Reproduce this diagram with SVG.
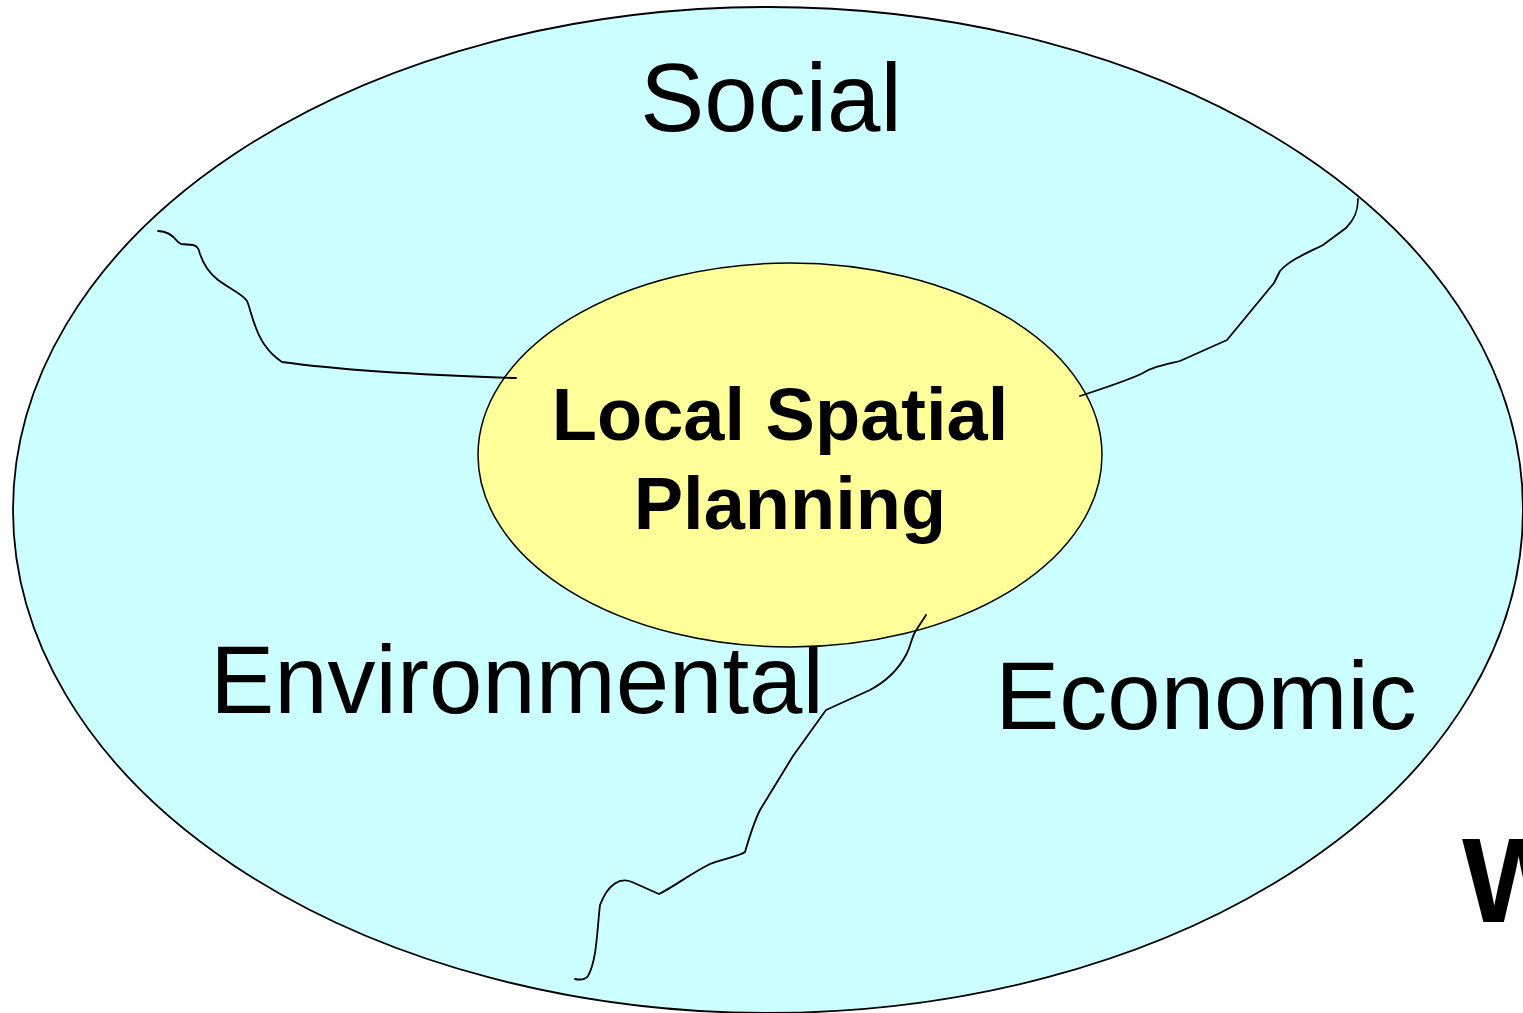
<svg xmlns="http://www.w3.org/2000/svg" width="1523" height="1013" viewBox="0 0 1523 1013">
<style>
.lbl{font-family:"Liberation Sans",Arial,sans-serif;font-size:96px;fill:#000;text-anchor:middle}
.core{font-family:"Liberation Sans",Arial,sans-serif;font-size:74px;font-weight:bold;fill:#000;text-anchor:middle}
.wave{fill:none;stroke:#000;stroke-width:1.8;stroke-linejoin:round;stroke-linecap:round}
</style>
<rect x="0" y="0" width="1523" height="1013" fill="#fff"/>
<g id="outer">
<ellipse cx="768" cy="510" rx="755" ry="503" fill="#CCFFFF" stroke="#000" stroke-width="1.8"/>
<text class="lbl" x="771" y="131">Social</text>
<text class="lbl" x="517" y="713">Environmental</text>
<text class="lbl" x="1206" y="729">Economic</text>
</g>
<g id="core">
<ellipse cx="790" cy="455" rx="312" ry="192" fill="#FFFF99" stroke="#000" stroke-width="1.5"/>
<text class="core" x="780" y="440">Local Spatial</text>
<text class="core" x="790" y="529">Planning</text>
</g>
<g id="connectors">
<path class="wave" d="M158,231 C166,231 172,234 178,242 L181,244 L193,245 C198,246 199,250 200,254 C204,266 209,273 218,280 C230,289 243,294 247,301 C251,310 254,330 264,344 C270,353 276,358 282,362 C340,370 420,375 516,378"/>
<path class="wave" d="M1358,199 C1358,212 1354,220 1346,228 L1323,245 C1305,254 1290,260 1280,271 L1274,283 L1227,340 L1180,361 C1160,366 1150,368 1143,373 C1137,376 1120,383 1080,396"/>
<path class="wave" d="M926,615 L915,632 C911,640 910,648 906,655 C898,670 885,682 870,690 L826,710 L793,756 L760,810 C755,820 752,828 745,852 C740,856 720,860 710,864 C690,874 675,886 659,894 L632,882 C620,877 608,884 600,905 C597,930 597,960 588,976 C585,980 580,980 575,979"/>
</g>
<text x="1462" y="922" style="font-family:'Liberation Sans',Arial,sans-serif;font-size:120px;font-weight:bold;fill:#000">W</text>
</svg>
